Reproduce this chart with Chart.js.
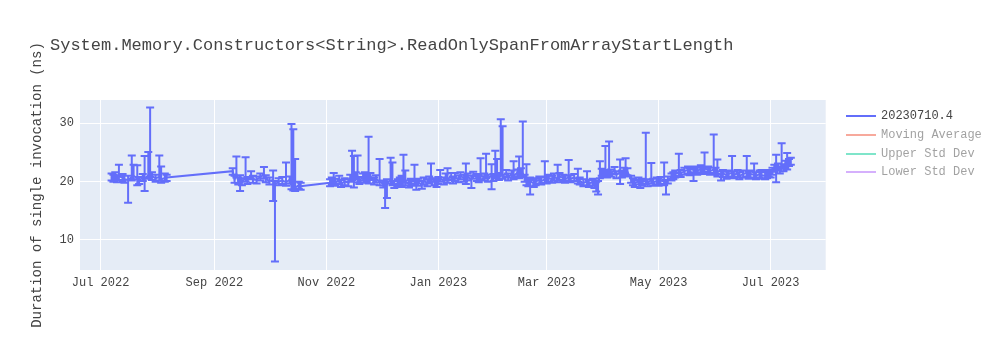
<!DOCTYPE html>
<html lang="en">
<head>
<meta charset="UTF-8">
<title>System.Memory.Constructors&lt;String&gt;.ReadOnlySpanFromArrayStartLength</title>
<script src="https://cdn.jsdelivr.net/npm/chart.js@4.4.0/dist/chart.umd.min.js"></script>
<style>
    body {
        margin: 0;
        background: #fff;
    }

    #wrap {
        position: relative;
        width: 1000px;
        height: 350px;
        font-family: "Liberation Mono", "DejaVu Sans Mono", monospace;
        color: #444;
    }

    #chart {
        position: absolute;
        left: 0;
        top: 0;
    }

    #title {
        position: absolute;
        left: 50px;
        top: 36px;
        font-size: 17px;
        line-height: 20px;
        white-space: nowrap;
    }

    #legend {
        position: absolute;
        left: 846px;
        top: 107px;
        font-size: 12px;
    }

    .item {
        height: 18.7px;
        display: flex;
        align-items: center;
        white-space: nowrap;
    }

    .swatch {
        width: 30px;
        height: 2px;
        margin-right: 5px;
    }

    .off {
        opacity: 0.5;
    }
</style>
</head>
<body>
<div id="wrap">
    <canvas id="chart" width="1000" height="350"></canvas>
    <div id="title">System.Memory.Constructors&lt;String&gt;.ReadOnlySpanFromArrayStartLength</div>
    <div id="legend">
        <div class="item"><span class="swatch" style="background:#636efa"></span>20230710.4</div>
        <div class="item off"><span class="swatch" style="background:#EF553B"></span>Moving Average</div>
        <div class="item off"><span class="swatch" style="background:#00cc96"></span>Upper Std Dev</div>
        <div class="item off"><span class="swatch" style="background:#ab63fa"></span>Lower Std Dev</div>
    </div>
</div>

<script>
// run dates, one row per month
const dates = [
    '2022-07-07','2022-07-08','2022-07-09','2022-07-10','2022-07-11','2022-07-13','2022-07-14','2022-07-16','2022-07-18','2022-07-19','2022-07-21','2022-07-22','2022-07-24','2022-07-25','2022-07-27','2022-07-28','2022-07-29','2022-07-31','2022-08-02','2022-08-03','2022-08-05','2022-08-06',
    '2022-09-11','2022-09-12','2022-09-13','2022-09-14','2022-09-15','2022-09-16','2022-09-18','2022-09-19','2022-09-21','2022-09-22','2022-09-24','2022-09-26','2022-09-28','2022-09-29','2022-10-01','2022-10-03','2022-10-04','2022-10-06','2022-10-08','2022-10-10','2022-10-12','2022-10-13','2022-10-14','2022-10-15','2022-10-17','2022-10-18',
    '2022-11-03','2022-11-04','2022-11-05','2022-11-06','2022-11-08','2022-11-09','2022-11-11','2022-11-13','2022-11-14','2022-11-15','2022-11-16','2022-11-17','2022-11-18','2022-11-19','2022-11-21','2022-11-22','2022-11-23','2022-11-24','2022-11-25','2022-11-27','2022-11-28','2022-11-30',
    '2022-12-02','2022-12-03','2022-12-04','2022-12-06','2022-12-07','2022-12-08','2022-12-10','2022-12-11','2022-12-12','2022-12-13','2022-12-14','2022-12-16','2022-12-17','2022-12-19','2022-12-20','2022-12-21','2022-12-23','2022-12-24','2022-12-26','2022-12-27','2022-12-28','2022-12-30','2022-12-31',
    '2023-01-01','2023-01-02','2023-01-04','2023-01-05','2023-01-06','2023-01-08','2023-01-09','2023-01-10','2023-01-12','2023-01-13','2023-01-15','2023-01-16','2023-01-17','2023-01-19','2023-01-20','2023-01-22','2023-01-23','2023-01-24','2023-01-26','2023-01-27','2023-01-28','2023-01-30','2023-01-31',
    '2023-02-01','2023-02-02','2023-02-03','2023-02-04','2023-02-05','2023-02-07','2023-02-08','2023-02-10','2023-02-11','2023-02-13','2023-02-14','2023-02-15','2023-02-16','2023-02-17','2023-02-18','2023-02-19','2023-02-20','2023-02-22','2023-02-23','2023-02-25','2023-02-26','2023-02-28',
    '2023-03-01','2023-03-02','2023-03-04','2023-03-05','2023-03-07','2023-03-08','2023-03-10','2023-03-11','2023-03-13','2023-03-14','2023-03-16','2023-03-18','2023-03-19','2023-03-21','2023-03-23','2023-03-24','2023-03-26','2023-03-27','2023-03-28','2023-03-29','2023-03-30','2023-03-31',
    '2023-04-01','2023-04-02','2023-04-03','2023-04-04','2023-04-05','2023-04-07','2023-04-08','2023-04-10','2023-04-11','2023-04-12','2023-04-13','2023-04-14','2023-04-16','2023-04-17','2023-04-18','2023-04-20','2023-04-21','2023-04-22','2023-04-24','2023-04-25','2023-04-27','2023-04-28','2023-04-30',
    '2023-05-01','2023-05-02','2023-05-04','2023-05-05','2023-05-06','2023-05-08','2023-05-09','2023-05-10','2023-05-12','2023-05-13','2023-05-15','2023-05-17','2023-05-18','2023-05-20','2023-05-21','2023-05-22','2023-05-24','2023-05-25','2023-05-26','2023-05-28','2023-05-29','2023-05-31',
    '2023-06-01','2023-06-02','2023-06-04','2023-06-05','2023-06-07','2023-06-08','2023-06-10','2023-06-11','2023-06-13','2023-06-14','2023-06-16','2023-06-18','2023-06-19','2023-06-20','2023-06-22','2023-06-23','2023-06-25','2023-06-26','2023-06-28','2023-06-29','2023-06-30',
    '2023-07-01','2023-07-02','2023-07-03','2023-07-04','2023-07-05','2023-07-06','2023-07-07','2023-07-08','2023-07-09','2023-07-10','2023-07-11','2023-07-12'
];

// mean duration (ns)
const means = [
    20.8, 20.6, 21.0, 20.5, 20.9, 20.7, 20.4, 20.3, 20.8, 21.0, 20.6, 20.2, 20.7, 20.5, 21.1, 21.4, 20.9, 20.6, 20.8, 20.4, 20.6, 20.7,
    21.8, 20.4, 21.3, 20.1, 20.5, 20.0, 20.6, 20.2, 21.0, 20.4, 20.3, 20.8, 21.2, 20.5, 20.1, 20.3, 19.5, 20.0, 20.2, 19.9, 20.3, 19.3, 19.6, 19.0, 19.4, 19.2,
    19.8, 20.1, 20.3, 19.9, 20.2, 19.7, 20.0, 19.8, 20.6, 20.9, 20.4, 21.0, 20.5, 20.2, 20.8, 20.4, 20.6, 20.3, 20.9, 20.1, 20.5, 20.0,
    19.6, 19.3, 19.8, 20.3, 20.0, 19.5, 19.8, 20.1, 19.7, 20.4, 20.0, 19.6, 19.9, 20.2, 19.6, 19.9, 19.5, 20.1, 19.8, 20.3, 20.6, 20.0, 19.7,
    20.2, 20.6, 20.1, 20.8, 20.4, 20.9, 20.3, 20.7, 20.5, 21.0, 20.6, 20.2, 20.8, 20.4, 21.1, 20.7, 20.5, 21.0, 20.8, 21.2, 20.6, 21.0, 20.7,
    21.2, 21.5, 20.9, 21.6, 21.1, 21.4, 20.8, 21.3, 21.0, 21.5, 21.2, 21.7, 21.4, 20.6, 20.0, 19.8, 20.1, 19.7, 20.0, 20.3, 20.1, 20.4,
    20.3, 20.6, 20.4, 20.8, 20.5, 20.9, 20.6, 20.4, 20.8, 20.5, 20.7, 20.3, 20.1, 19.8, 20.0, 19.7, 19.9, 19.6, 19.4, 19.5, 21.2, 21.6,
    21.4, 21.8, 21.3, 21.7, 21.5, 21.9, 21.2, 21.6, 21.3, 21.8, 21.5, 21.7, 20.4, 20.0, 19.7, 20.1, 19.6, 19.9, 20.2, 19.8, 20.3, 19.9, 20.1,
    19.9, 20.2, 20.0, 19.7, 20.3, 20.8, 21.0, 21.3, 21.6, 21.4, 21.8, 22.0, 21.7, 21.5, 22.0, 21.8, 22.2, 21.9, 22.3, 22.0, 21.8, 22.1,
    21.8, 21.5, 21.2, 21.4, 21.1, 21.3, 21.5, 21.2, 21.4, 21.0, 21.3, 21.5, 21.1, 21.3, 21.2, 21.0, 21.3, 21.1, 21.0, 21.2, 21.4,
    21.3, 21.8, 22.3, 21.6, 22.5, 22.0, 22.8, 22.4, 23.0, 22.7, 23.3, 23.5
];

// top of each error bar
const upper = [
    21.4, 21.2, 21.6, 21.1, 22.9, 21.3, 21.0, 21.0, 24.5, 22.9, 22.8, 20.8, 21.3, 24.4, 25.1, 32.7, 21.6, 21.2, 24.5, 22.6, 21.4, 21.2,
    22.3, 21.0, 24.3, 20.7, 21.1, 20.6, 24.2, 20.8, 21.8, 21.0, 20.9, 21.4, 22.5, 21.1, 20.7, 21.9, 20.1, 20.6, 20.8, 23.3, 20.9, 29.9, 29.0, 23.9, 20.0, 19.8,
    20.4, 20.7, 21.5, 20.5, 21.0, 20.3, 20.6, 20.4, 21.2, 25.3, 24.4, 21.6, 24.5, 20.8, 21.4, 21.6, 21.2, 27.7, 21.5, 20.7, 21.1, 23.9,
    20.2, 19.9, 20.4, 24.1, 23.3, 20.1, 20.4, 20.7, 21.0, 24.6, 21.9, 20.2, 20.5, 22.9, 20.2, 20.5, 20.1, 20.7, 20.4, 20.9, 23.1, 20.6, 20.3,
    20.8, 22.0, 20.7, 21.4, 22.3, 21.5, 20.9, 21.5, 21.1, 21.6, 21.2, 23.1, 21.4, 21.0, 21.7, 21.3, 21.1, 24.0, 21.4, 24.8, 21.2, 23.0, 21.3,
    25.3, 23.9, 21.5, 30.7, 29.5, 22.0, 21.4, 21.9, 23.5, 22.1, 24.3, 22.3, 30.3, 21.2, 23.0, 20.4, 20.7, 20.3, 20.6, 20.9, 20.7, 23.5,
    20.9, 21.2, 21.0, 21.4, 22.9, 21.5, 21.2, 21.0, 23.7, 21.1, 21.3, 22.2, 20.7, 20.4, 21.8, 20.3, 20.5, 20.2, 20.0, 20.1, 23.5, 22.2,
    22.0, 26.1, 21.9, 26.9, 22.1, 22.5, 21.8, 23.8, 21.9, 22.4, 24.0, 22.3, 21.0, 20.6, 20.3, 20.7, 20.2, 20.5, 28.4, 20.4, 23.2, 20.5, 20.7,
    20.5, 20.8, 23.3, 20.3, 20.9, 21.4, 21.6, 21.9, 24.8, 22.0, 22.4, 22.6, 22.3, 22.1, 22.6, 22.4, 22.8, 22.5, 25.0, 22.6, 22.4, 28.1,
    22.4, 23.8, 21.8, 22.0, 21.7, 21.9, 24.4, 21.8, 22.0, 21.6, 21.9, 24.4, 21.7, 21.9, 23.1, 21.6, 21.9, 22.0, 21.6, 21.8, 22.0,
    21.9, 22.4, 22.9, 24.6, 23.1, 22.6, 26.6, 23.0, 23.6, 24.9, 23.9, 24.1
];

// bottom of each error bar
const lower = [
    20.2, 20.0, 20.4, 19.9, 20.3, 20.1, 19.8, 16.4, 20.2, 20.4, 19.4, 19.6, 20.1, 18.4, 20.5, 20.8, 20.3, 20.0, 20.2, 19.8, 20.0, 20.1,
    21.2, 19.8, 20.7, 19.5, 18.4, 19.4, 20.0, 19.6, 20.4, 19.8, 19.7, 20.2, 20.6, 19.9, 19.5, 16.7, 6.3, 19.4, 19.6, 19.3, 19.7, 18.7, 18.5, 18.4, 18.8, 18.6,
    19.2, 19.5, 19.7, 19.3, 19.6, 19.1, 19.4, 19.2, 20.0, 20.3, 19.0, 20.4, 19.9, 19.6, 20.2, 19.8, 20.0, 19.7, 20.3, 19.5, 19.9, 19.4,
    19.0, 15.5, 17.2, 19.7, 19.4, 18.9, 19.2, 19.5, 19.1, 19.8, 19.4, 19.0, 19.3, 19.6, 18.6, 19.3, 18.8, 19.5, 19.2, 19.7, 20.0, 19.4, 19.1,
    19.6, 20.0, 19.5, 20.2, 19.8, 20.3, 19.7, 20.1, 19.9, 20.4, 20.0, 19.6, 20.2, 18.9, 20.5, 20.1, 19.9, 20.4, 20.2, 20.6, 20.0, 18.7, 20.1,
    20.6, 20.9, 20.3, 21.0, 20.5, 20.8, 20.2, 20.7, 20.4, 20.9, 20.6, 21.1, 20.8, 20.0, 19.4, 19.2, 17.8, 19.1, 19.4, 19.7, 19.5, 19.8,
    19.7, 20.0, 19.8, 20.2, 19.9, 20.3, 20.0, 19.8, 20.2, 19.9, 20.1, 19.7, 19.5, 19.2, 19.4, 19.1, 19.3, 18.9, 18.3, 17.8, 20.6, 21.0,
    20.8, 21.2, 20.7, 21.1, 20.9, 21.3, 20.6, 19.6, 20.7, 21.2, 20.9, 21.1, 19.8, 19.4, 19.1, 19.5, 18.9, 19.3, 19.6, 19.2, 19.7, 19.3, 19.5,
    19.3, 19.6, 19.4, 17.8, 19.7, 20.2, 20.4, 20.7, 21.0, 20.8, 21.2, 21.4, 21.1, 20.1, 21.4, 21.2, 21.6, 21.3, 21.7, 21.4, 21.2, 21.5,
    21.2, 20.9, 20.2, 20.8, 20.5, 20.7, 20.9, 20.6, 20.8, 20.4, 20.7, 20.9, 20.5, 20.7, 20.6, 20.4, 20.7, 20.5, 20.4, 20.6, 20.8,
    20.7, 21.2, 21.7, 19.9, 21.9, 21.4, 22.2, 21.8, 22.4, 22.1, 22.7, 22.9
];

const tickDates = ['2022-07-01', '2022-09-01', '2022-11-01', '2023-01-01', '2023-03-01', '2023-05-01', '2023-07-01'];
const tickLabels = ['Jul 2022', 'Sep 2022', 'Nov 2022', 'Jan 2023', 'Mar 2023', 'May 2023', 'Jul 2023'];
const yTicks = [10, 20, 30];

const FONT = '"Liberation Mono", "DejaVu Sans Mono", monospace';
const BASE = Date.UTC(2022, 6, 1);

// days since 1 Jul 2022
function dayOf(s) {
    const p = s.split('-').map(Number);
    return (Date.UTC(p[0], p[1] - 1, p[2]) - BASE) / 864e5;
}

const points = dates.map((d, i) => ({ x: dayOf(d), y: means[i] }));

// plot background like plotly
const bgPlugin = {
    id: 'plotBg',
    beforeDraw(chart) {
        const { ctx, chartArea: a } = chart;
        ctx.save();
        ctx.fillStyle = '#E5ECF6';
        ctx.fillRect(a.left, a.top, a.right - a.left, a.bottom - a.top);
        ctx.restore();
    }
};

// vertical error bars with caps
const errorBars = {
    id: 'errorBars',
    afterDatasetsDraw(chart) {
        const { ctx, chartArea: a, scales } = chart;
        const xs = scales.x, ys = scales.y;
        ctx.save();
        ctx.beginPath();
        ctx.rect(a.left, a.top, a.right - a.left, a.bottom - a.top);
        ctx.clip();
        ctx.strokeStyle = '#636efa';
        ctx.lineWidth = 2;
        ctx.beginPath();
        dates.forEach((d, i) => {
            const x = xs.getPixelForValue(dayOf(d));
            const yt = ys.getPixelForValue(upper[i]);
            const yb = ys.getPixelForValue(lower[i]);
            ctx.moveTo(x, yt);
            ctx.lineTo(x, yb);
            ctx.moveTo(x - 4, yt);
            ctx.lineTo(x + 4, yt);
            ctx.moveTo(x - 4, yb);
            ctx.lineTo(x + 4, yb);
        });
        ctx.stroke();
        ctx.restore();
    }
};

new Chart(document.getElementById('chart'), {
    type: 'line',
    data: {
        datasets: [{
            label: '20230710.4',
            data: points,
            borderColor: '#636efa',
            borderWidth: 2,
            pointRadius: 0,
            tension: 0,
            fill: false
        }]
    },
    options: {
        responsive: false,
        animation: false,
        devicePixelRatio: 1,
        layout: {
            padding: { left: 0, top: 100, right: 174.3, bottom: 0 }
        },
        plugins: {
            legend: { display: false },
            tooltip: { enabled: false }
        },
        scales: {
            x: {
                type: 'linear',
                min: -11.2,
                max: 395,
                border: { display: false },
                grid: { color: '#fff', lineWidth: 1, drawTicks: false },
                ticks: {
                    color: '#444',
                    font: { family: FONT, size: 12 },
                    padding: 6,
                    maxRotation: 0,
                    autoSkip: false,
                    callback: (v, i) => tickLabels[i]
                },
                afterBuildTicks: s => { s.ticks = tickDates.map(d => ({ value: dayOf(d) })); },
                afterFit: s => { s.height = 80; }
            },
            y: {
                min: 4.85,
                max: 34.0,
                border: { display: false },
                grid: { color: '#fff', lineWidth: 1, drawTicks: false },
                ticks: {
                    color: '#444',
                    font: { family: FONT, size: 12 },
                    padding: 6
                },
                title: {
                    display: true,
                    text: 'Duration of single invocation (ns)',
                    color: '#444',
                    font: { family: FONT, size: 14 },
                    padding: { top: 28.6, bottom: 0 }
                },
                afterBuildTicks: s => { s.ticks = yTicks.map(v => ({ value: v })); },
                afterFit: s => { s.width = 80; }
            }
        }
    },
    plugins: [bgPlugin, errorBars]
});
</script>
</body>
</html>
